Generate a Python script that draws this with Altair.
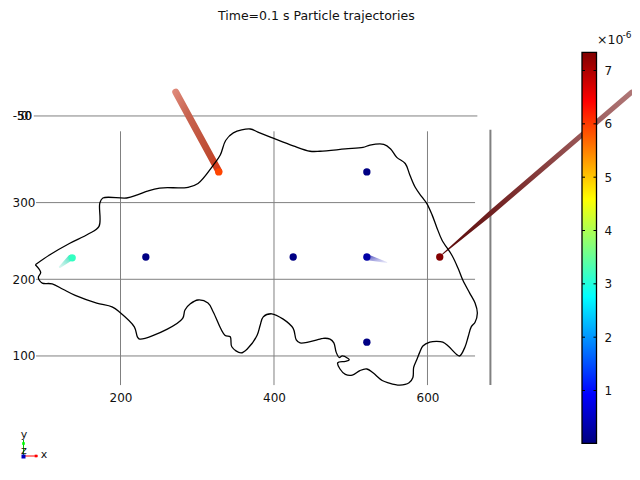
import altair as alt
import pandas as pd

# Domain outline (data coordinates)
outline_x = [89,108,134,158,172,173,177,208,222,235,251,288,301,321,330,337,347,369,379,399,425,447,460,493,516,525,543,552,560,571,577,584,593,599,606,612,619,632,640,646,655,662,665,662,657,653,649,642,638,627,620,612,603,594,590,586,582,581,576,564,549,541,529,521,512,502,493,486,483,493,498,496,489,485,481,478,473,464,460,434,429,425,412,397,386,382,378,366,357,345,343,336,321,314,301,291,284,281,261,225,222,218,199,189,169,141,125,111,98,94,93,96,89]
outline_y = [219,232,247,259,269,299,306,306,310,315,319,320,325,349,362,381,391,396,392,384,374,367,367,370,372,375,376,370,359,351,336,320,307,299,284,268,251,231,214,199,182,169,156,144,138,125,112,100,102,113,118,119,118,113,105,95,85,72,65,62,65,68,78,83,81,75,76,83,91,93,95,97,100,98,105,117,122,123,122,117,121,136,148,155,151,140,127,110,104,112,125,127,157,169,173,168,160,149,135,122,125,138,157,164,169,179,187,194,195,199,203,209,219]

# Particles
particle_x = [137,233,425,521,521,521,328,616]
particle_y = [228,229,229,229,340,118,340,229]
particle_v = [3.4,0.05,0.05,0.3,0.05,0.05,6.2,7.3]

# Tails: x, y, width (head first)
tail_a = dict(x=[135,121], y=[228,216], w=[6,2])
tail_b = dict(x=[521,547], y=[229,222], w=[6,1])
tail_c = dict(x=[328,272], y=[341,444], w=[7,7])
tail_d = dict(x=[620,682,866], y=[233,286,444], w=[1,5,5])

grid_v = [200,400,600]
grid_h = [100,200,300]
bar_ticks = [1,2,3,4,5,6,7]
jet = ["#00007f","#0000ff","#00ffff","#ffff00","#ff0000","#7f0000"]
jet_at = [0.01,0.926,2.76,4.59,6.42,7.34]
bar_lo, bar_hi = 0.01, 7.34
X = [53.4,866.5]
Y = [-40.9,553.8]
BAR = [-0.378,8.172]
GRAY = "#808080"
F = "DejaVu Sans"

def sx(): return alt.Scale(domain=X, nice=False, zero=False)
def sy(): return alt.Scale(domain=Y, nice=False, zero=False)
def xe(f="x", **k): return alt.X(f, type="quantitative", scale=sx(), **k)
def ye(f="y", **k): return alt.Y(f, type="quantitative", scale=sy(), **k)

x_axis = alt.Axis(values=grid_v, domain=False, ticks=False, grid=False, title=None, offset=-72, labelPadding=0,
                  labelFont=F, labelFontSize=12, labelColor="#111", labelBaseline="top")
y_axis = alt.Axis(values=grid_h, domain=False, ticks=False, grid=False, title=None, offset=-27, labelPadding=0,
                  labelFont=F, labelFontSize=12, labelColor="#111")

vlines = pd.DataFrame(dict(x=grid_v, y=[62]*3, y2=[393]*3))
hlines = pd.DataFrame(dict(x=[90,90,90,87], x2=[662,662,662,665], y=grid_h+[413]))
vgrid = alt.Chart(vlines).mark_rule(color=GRAY, strokeWidth=1).encode(
    x=xe(axis=x_axis), y=ye(axis=y_axis), y2="y2")
hgrid = alt.Chart(hlines).mark_rule(color=GRAY, strokeWidth=1).encode(x=xe(), x2="x2", y=ye())
edge = alt.Chart(pd.DataFrame(dict(x=[682], y=[62], y2=[395]))).mark_rule(color=GRAY, strokeWidth=2).encode(
    x=xe(), y=ye(), y2="y2")
stacked = alt.Chart(pd.DataFrame(dict(x=[85,85,80], y=[413]*3, t=["-50","50","0"]))).mark_text(
    align="right", baseline="middle", font=F, fontSize=12, color="#111").encode(x=xe(), y=ye(), text="t")

def grad(stops, x1, y1, x2, y2):
    return alt.LinearGradient(gradient="linear", x1=x1, y1=y1, x2=x2, y2=y2,
        stops=[alt.GradientStop(color=c, offset=o) for o, c in stops])

def trail(d, g):
    return alt.Chart(pd.DataFrame(d)).mark_trail(color=g).encode(
        x=xe(), y=ye(), size=alt.Size("w", type="quantitative", scale=None, legend=None))

t_a = trail(tail_a, grad([(0,"#20d8b0"),(1,"rgba(190,240,230,0.5)")],1,0,0,1))
t_b = trail(tail_b, grad([(0,"#1a1aa8"),(1,"rgba(220,220,248,0.5)")],0,0,1,1))
t_c = trail(tail_c, grad([(0,"#e0320f"),(0.25,"#be4b32"),(0.7,"#c86450"),(1,"#e18c7d")],1,1,0,0))
t_d = trail(tail_d, grad([(0,"#5a0808"),(0.4,"#7d3030"),(1,"#b07878")],0,1,1,0))

out = alt.Chart(pd.DataFrame(dict(x=outline_x, y=outline_y, o=range(len(outline_x))))).mark_line(
    color="black", strokeWidth=1.3, interpolate="catmull-rom").encode(x=xe(), y=ye(), order="o")

color_scale = alt.Scale(domain=jet_at, range=jet, nice=False, zero=False)
dots = alt.Chart(pd.DataFrame(dict(x=particle_x, y=particle_y, v=particle_v))).mark_circle(size=54, opacity=1).encode(
    x=xe(), y=ye(), color=alt.Color("v", type="quantitative", scale=color_scale, legend=None))

title_sup1 = alt.Chart(pd.DataFrame(dict(t=["\u00d710"]))).mark_text(
    align="left", baseline="middle", font=F, fontSize=12.5, color="#111").encode(
    x=alt.value(589), y=alt.value(32), text="t")
title_sup2 = alt.Chart(pd.DataFrame(dict(t=["-6"]))).mark_text(
    align="left", baseline="middle", font=F, fontSize=9, color="#111").encode(
    x=alt.value(614.5), y=alt.value(27), text="t")

# Axis triad
tri_x = alt.Chart(pd.DataFrame(dict(a=[0]))).mark_rule(color="#ff0000", strokeWidth=1).encode(
    x=alt.value(15.5), x2=alt.value(30), y=alt.value(448))
tri_y = alt.Chart(pd.DataFrame(dict(a=[0]))).mark_rule(color="#00c000", strokeWidth=1).encode(
    x=alt.value(15.5), y=alt.value(448), y2=alt.value(432))
tri_xs = alt.Chart(pd.DataFrame(dict(a=[0]))).mark_square(color="#ff0000", size=7, opacity=1).encode(
    x=alt.value(28), y=alt.value(448))
tri_ys = alt.Chart(pd.DataFrame(dict(a=[0]))).mark_square(color="#00ff00", size=7, opacity=1).encode(
    x=alt.value(15.5), y=alt.value(435.5))
tri_zs = alt.Chart(pd.DataFrame(dict(a=[0]))).mark_square(color="#0000c0", size=16, opacity=1).encode(
    x=alt.value(15.5), y=alt.value(448.5))
def tri_t(s, x, y):
    return alt.Chart(pd.DataFrame(dict(t=[s]))).mark_text(
        align="center", baseline="middle", font=F, fontSize=11, color="#111").encode(
        x=alt.value(x), y=alt.value(y), text="t")

main = alt.layer(vgrid, hgrid, edge, stacked, t_a, t_b, t_c, t_d, out, dots,
                 title_sup1, title_sup2, tri_x, tri_y, tri_xs, tri_ys, tri_zs,
                 tri_t("y",16,427), tri_t("z",16,443), tri_t("x",36,447))

# Colour bar on its own vertical scale
bar_scale = alt.Scale(domain=BAR, nice=False, zero=False)
bar_axis = alt.Axis(values=bar_ticks, orient="right", domain=False, ticks=False, grid=False, title=None,
                    offset=-28, labelPadding=0, labelFont=F, labelFontSize=12, labelColor="#111", format="d")
bar_grad = alt.LinearGradient(gradient="linear", x1=0, y1=1, x2=0, y2=0,
    stops=[alt.GradientStop(color=c, offset=o) for o, c in zip([0,0.125,0.375,0.625,0.875,1], jet)])
bar = alt.Chart(pd.DataFrame(dict(a=[bar_lo], b=[bar_hi]))).mark_rect(color=bar_grad, stroke="black", strokeWidth=1.3).encode(
    x=alt.value(574), x2=alt.value(588.5),
    y=alt.Y("a", type="quantitative", scale=bar_scale, axis=bar_axis), y2="b")
tick_df = pd.DataFrame(dict(t=bar_ticks))
tick_l = alt.Chart(tick_df).mark_rule(color="black", strokeWidth=1).encode(
    x=alt.value(574), x2=alt.value(577), y=alt.Y("t", type="quantitative", scale=bar_scale))
tick_r = alt.Chart(tick_df).mark_rule(color="black", strokeWidth=1).encode(
    x=alt.value(585.5), x2=alt.value(588.5), y=alt.Y("t", type="quantitative", scale=bar_scale))
barl = alt.layer(bar, tick_l, tick_r)

chart = alt.layer(main, barl).resolve_scale(y="independent").properties(
    width=624, height=456, padding=0, autosize=alt.AutoSizeParams(type="none"),
    title=alt.TitleParams("Time=0.1 s  Particle trajectories", anchor="start", dx=210, offset=-14,
                          font=F, fontSize=12.5, fontWeight="normal", color="#111"),
    background="white",
).configure_view(strokeWidth=0)

chart.save("out.html", embed_options={"renderer": "svg", "actions": False})
